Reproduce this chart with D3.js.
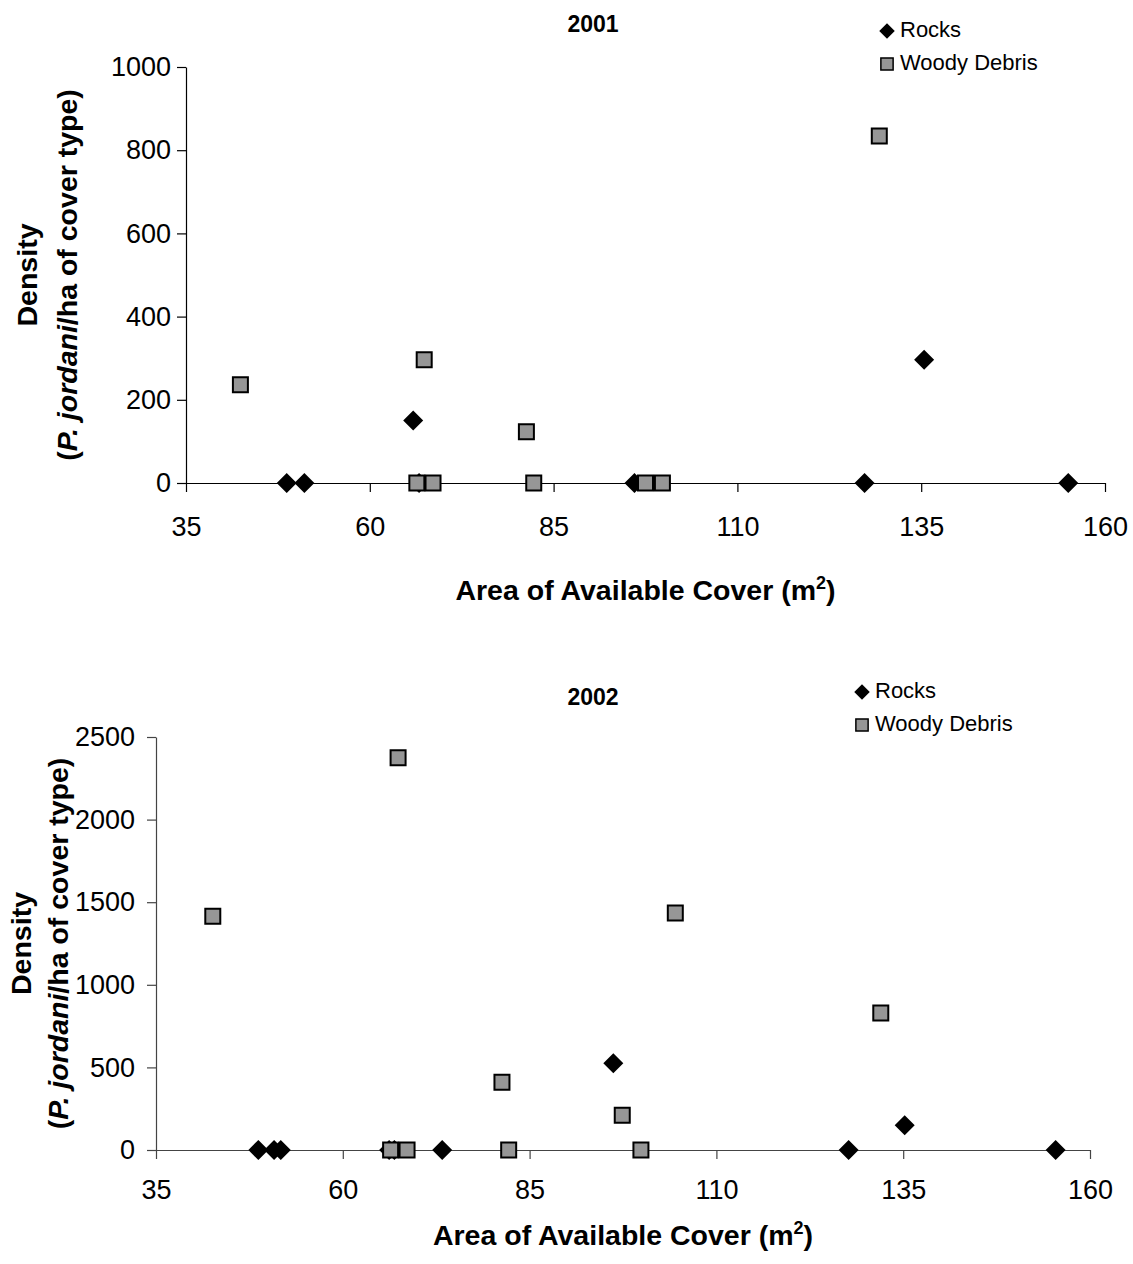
<!DOCTYPE html>
<html>
<head>
<meta charset="utf-8">
<script src="https://cdn.jsdelivr.net/npm/d3@7"></script>
<style>
  body { margin: 0; background: #fff; }
  text { font-family: "Liberation Sans", Arial, sans-serif; fill: #000; }
</style>
</head>
<body>
<svg id="chart" width="1133" height="1264"></svg>
<script>
// 2001 data (area of cover in m2, density per ha)
const rocks2001X = [48.7, 51.1, 65.9, 66.7, 96.0, 127.3, 135.4, 155.0];
const rocks2001Y = [0, 0, 150, 0, 0, 0, 296, 0];
const woody2001X = [42.4, 66.4, 67.4, 68.6, 81.3, 82.3, 97.5, 99.8, 129.3];
const woody2001Y = [236, 0, 296, 0, 123, 0, 0, 0, 834];

// 2002 data
const rocks2002X = [48.7, 50.8, 51.7, 66.2, 66.9, 73.3, 96.2, 127.7, 135.2, 155.4];
const rocks2002Y = [0, 0, 0, 0, 0, 0, 525, 0, 150, 0];
const woody2002X = [42.6, 66.4, 67.4, 68.6, 81.3, 82.2, 97.4, 99.9, 104.5, 132.0];
const woody2002Y = [1415, 0, 2375, 0, 410, 0, 210, 0, 1435, 830];

// ticks
const xTicks = [35, 60, 85, 110, 135, 160];
const yTicks2001 = [0, 200, 400, 600, 800, 1000];
const yTicks2002 = [0, 500, 1000, 1500, 2000, 2500];

const seriesNames = ["Rocks", "Woody Debris"];

const svg = d3.select("#chart");

const diamond = d3.symbol().type(d3.symbolSquare).size(200);
const square = d3.symbol().type(d3.symbolSquare).size(225);

function drawPanel(p) {
    const x = d3.scaleLinear().domain([35, 160]).range([p.left, p.right]);
    const y = d3.scaleLinear().domain([0, p.yMax]).range([p.bottom, p.top]);
    const g = svg.append("g");

    // y axis
    const ya = g.append("g")
        .attr("transform", `translate(${p.left},0)`)
        .call(d3.axisLeft(y).tickValues(p.yTicks).tickFormat(d3.format("d"))
            .tickSize(9).tickSizeOuter(0).tickPadding(p.yPad));
    // x axis
    const xa = g.append("g")
        .attr("transform", `translate(0,${y(0)})`)
        .call(d3.axisBottom(x).tickValues(xTicks).tickFormat(d3.format("d"))
            .tickSize(9).tickSizeOuter(0).tickPadding(p.xPad));
    [ya, xa].forEach(a => {
        a.selectAll("path, line").attr("stroke", p.axisColor).attr("stroke-width", 1.2);
        a.selectAll("text").style("font-size", "27px");
    });

    // rocks
    g.append("g").selectAll("path")
        .data(p.rocksX.map((v, i) => [v, p.rocksY[i]]))
        .join("path")
        .attr("d", diamond)
        .attr("transform", d => `translate(${x(d[0])},${y(d[1])}) rotate(45)`)
        .attr("fill", "#000");

    // woody debris
    g.append("g").selectAll("path")
        .data(p.woodyX.map((v, i) => [v, p.woodyY[i]]))
        .join("path")
        .attr("d", square)
        .attr("transform", d => `translate(${x(d[0])},${y(d[1])})`)
        .attr("fill", "#969696")
        .attr("stroke", "#000")
        .attr("stroke-width", 2);

    // title
    g.append("text")
        .attr("x", 593).attr("y", p.titleY)
        .attr("text-anchor", "middle")
        .style("font-size", "23px").style("font-weight", "bold")
        .text(p.title);

    // x axis title
    const xt = g.append("text")
        .attr("x", (p.left + p.right) / 2).attr("y", p.xTitleY)
        .attr("text-anchor", "middle")
        .style("font-size", "28.5px").style("font-weight", "bold");
    xt.append("tspan").text("Area of Available Cover (m");
    xt.append("tspan").attr("dy", -11).style("font-size", "18px").text("2");
    xt.append("tspan").attr("dy", 11).text(")");

    // y axis title, two lines
    const mid = (p.top + p.bottom) / 2;
    g.append("text")
        .attr("transform", `translate(${p.yTitleX[0]},${mid}) rotate(-90)`)
        .attr("text-anchor", "middle")
        .style("font-size", "28.5px").style("font-weight", "bold")
        .text("Density");
    const yt = g.append("text")
        .attr("transform", `translate(${p.yTitleX[1]},${mid}) rotate(-90)`)
        .attr("text-anchor", "middle")
        .style("font-size", "28.5px").style("font-weight", "bold");
    yt.append("tspan").text("(");
    yt.append("tspan").style("font-style", "italic").text("P. jordani");
    yt.append("tspan").text("/ha of cover type)");

    // legend
    const lg = g.append("g").attr("transform", `translate(${p.legX},${p.legY})`);
    lg.append("path")
        .attr("d", d3.symbol().type(d3.symbolSquare).size(120))
        .attr("transform", "rotate(45)")
        .attr("fill", "#000");
    lg.append("path")
        .attr("d", d3.symbol().type(d3.symbolSquare).size(150))
        .attr("transform", "translate(0,33)")
        .attr("fill", "#969696").attr("stroke", "#000").attr("stroke-width", 1.5);
    lg.selectAll("text.leg")
        .data(seriesNames)
        .join("text")
        .attr("class", "leg")
        .attr("x", 13).attr("y", (d, i) => 6 + i * 33)
        .style("font-size", "22px")
        .text(d => d);
}

drawPanel({
    left: 186, right: 1105, top: 67, bottom: 483,
    yMax: 1000, yTicks: yTicks2001, yPad: 6, xPad: 25,
    rocksX: rocks2001X, rocksY: rocks2001Y,
    woodyX: woody2001X, woodyY: woody2001Y,
    title: "2001", titleY: 32, xTitleY: 600, yTitleX: [37, 77],
    legX: 887, legY: 31, axisColor: "#000"
});

drawPanel({
    left: 156, right: 1090, top: 737, bottom: 1150,
    yMax: 2500, yTicks: yTicks2002, yPad: 12, xPad: 21,
    rocksX: rocks2002X, rocksY: rocks2002Y,
    woodyX: woody2002X, woodyY: woody2002Y,
    title: "2002", titleY: 705, xTitleY: 1245, yTitleX: [31, 68],
    legX: 862, legY: 692, axisColor: "#444"
});
</script>
</body>
</html>
